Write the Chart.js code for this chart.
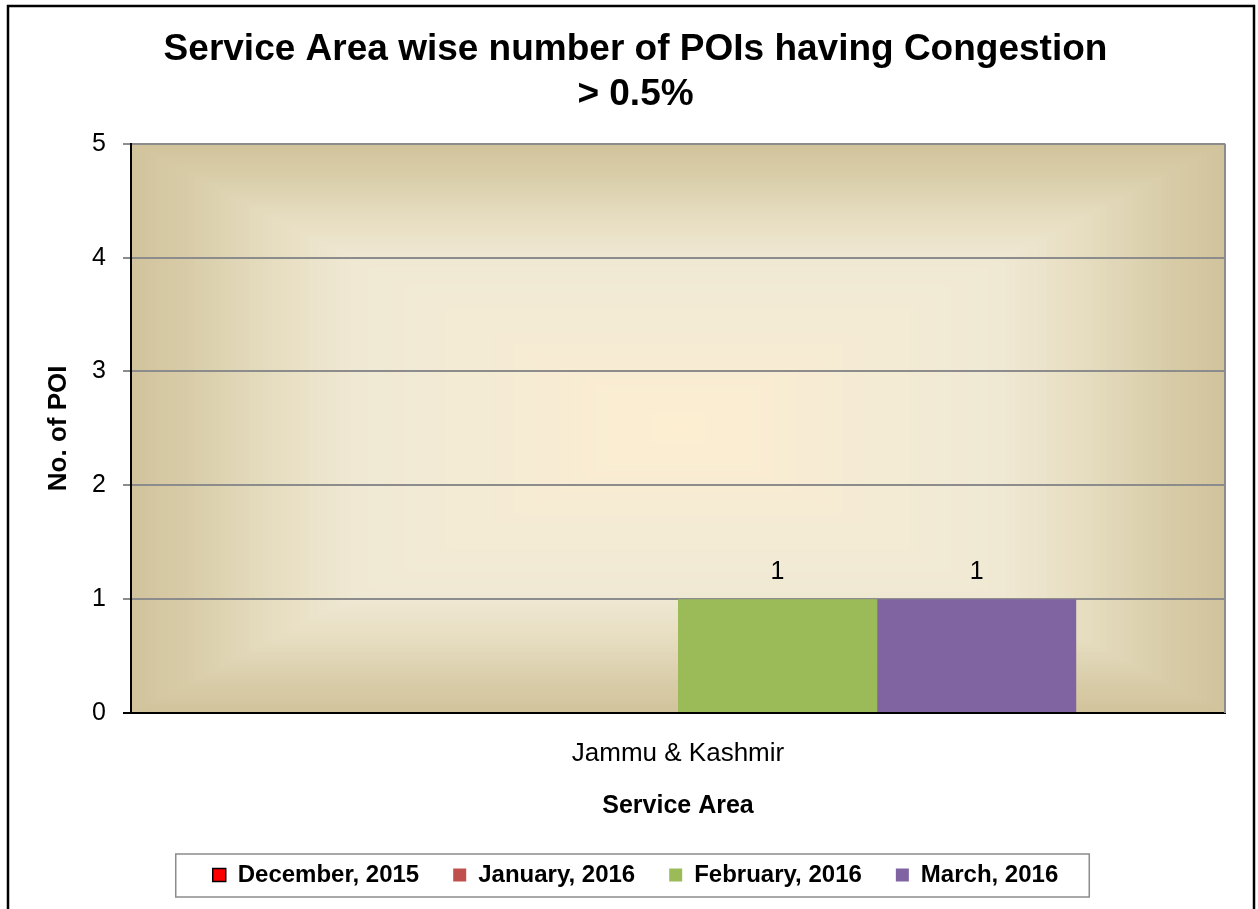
<!DOCTYPE html>
<html>
<head>
<meta charset="utf-8">
<script src="https://cdn.jsdelivr.net/npm/chart.js@4.4.1/dist/chart.umd.min.js"></script>
<style>
  body { margin: 0; background: #fff; }
  canvas { display: block; }
</style>
</head>
<body>
<canvas id="poi-chart" width="1258" height="909"></canvas>
<script>
// data
var serviceAreas = ['Jammu & Kashmir'];
var seriesNames = ['December, 2015', 'January, 2016', 'February, 2016', 'March, 2016'];
var dec2015 = [0];
var jan2016 = [0];
var feb2016 = [1];
var mar2016 = [1];
var yMin = 0, yMax = 5, yStep = 1;

var seriesColors = ['#FF0000', '#C0504D', '#9BBB59', '#8064A2'];

Chart.defaults.font.family = 'Arial, "Liberation Sans", sans-serif';
Chart.defaults.color = '#000';

// background: white page, black frame, rectangular gradient in plot area
var plotBackground = {
    id: 'plotBackground',
    beforeDraw: function(chart) {
        var ctx = chart.ctx, a = chart.chartArea;
        ctx.save();
        ctx.fillStyle = '#fff';
        ctx.fillRect(0, 0, chart.width, chart.height);
        ctx.strokeStyle = '#000';
        ctx.lineWidth = 2.5;
        ctx.strokeRect(8, 6, 1246, 930);

        var stops = [
            [0, [209, 195, 156]],
            [0.1, [216, 204, 168]],
            [0.25, [230, 221, 192]],
            [0.4, [239, 232, 211]],
            [0.6, [243, 235, 212]],
            [0.8, [248, 236, 211]],
            [1, [253, 238, 209]]
        ];
        function colorAt(t) {
            for (var i = 1; i < stops.length; i++) {
                if (t <= stops[i][0]) {
                    var p = stops[i - 1], q = stops[i];
                    var f = (t - p[0]) / (q[0] - p[0]);
                    var c = p[1].map(function(v, k) { return Math.round(v + (q[1][k] - v) * f); });
                    return 'rgb(' + c.join(',') + ')';
                }
            }
            return 'rgb(' + stops[stops.length - 1][1].join(',') + ')';
        }
        var hw = (a.right - a.left) / 2, hh = (a.bottom - a.top) / 2;
        var n = 120;
        for (var i = 0; i < n; i++) {
            var t = i / n;
            ctx.fillStyle = colorAt(t);
            ctx.fillRect(a.left + t * hw, a.top + t * hh, 2 * hw * (1 - t), 2 * hh * (1 - t));
        }
        ctx.restore();
    },
    afterDraw: function(chart) {
        var ctx = chart.ctx, a = chart.chartArea;
        ctx.save();
        // right border of plot area
        ctx.strokeStyle = '#8c8c8c';
        ctx.lineWidth = 2;
        ctx.beginPath();
        ctx.moveTo(a.right, a.top);
        ctx.lineTo(a.right, a.bottom);
        ctx.stroke();
        // box round the legend
        var boxes = chart.legend.legendHitBoxes;
        if (boxes && boxes.length) {
            var first = boxes[0], last = boxes[boxes.length - 1];
            var x0 = first.left - 37, x1 = last.left + last.width + 31;
            var y0 = first.top - 9, y1 = first.top + first.height + 10;
            ctx.strokeStyle = '#8c8c8c';
            ctx.lineWidth = 1.5;
            ctx.strokeRect(x0, y0, x1 - x0, y1 - y0);
        }
        ctx.restore();
    }
};

// value labels above the bars
var valueLabels = {
    id: 'valueLabels',
    afterDatasetsDraw: function(chart) {
        var ctx = chart.ctx;
        ctx.save();
        ctx.font = '25px Arial, "Liberation Sans", sans-serif';
        ctx.fillStyle = '#000';
        ctx.textAlign = 'center';
        ctx.textBaseline = 'middle';
        chart.data.datasets.forEach(function(ds, i) {
            var meta = chart.getDatasetMeta(i);
            meta.data.forEach(function(bar, j) {
                var v = ds.data[j];
                if (v > 0) ctx.fillText(String(v), bar.x, bar.y - 27);
            });
        });
        ctx.restore();
    }
};

var ctx = document.getElementById('poi-chart').getContext('2d');
var myChart = new Chart(ctx, {
    type: 'bar',
    data: {
        labels: serviceAreas,
        datasets: [
            { label: seriesNames[0], data: dec2015, backgroundColor: seriesColors[0], borderWidth: 0 },
            { label: seriesNames[1], data: jan2016, backgroundColor: seriesColors[1], borderWidth: 0 },
            { label: seriesNames[2], data: feb2016, backgroundColor: seriesColors[2], borderWidth: 0 },
            { label: seriesNames[3], data: mar2016, backgroundColor: seriesColors[3], borderWidth: 0 }
        ]
    },
    options: {
        responsive: false,
        animation: false,
        categoryPercentage: 0.728,
        barPercentage: 1.0,
        layout: { padding: { left: 46, right: 33, top: 0, bottom: 12 } },
        plugins: {
            title: {
                display: true,
                text: ['Service Area wise number of POIs having Congestion', '> 0.5%'],
                font: { size: 37, weight: 'bold', lineHeight: 1.2 },
                color: '#000',
                padding: { top: 28, bottom: 27 }
            },
            legend: {
                position: 'bottom',
                labels: {
                    font: { size: 24, weight: 'bold' },
                    color: '#000',
                    boxWidth: 13,
                    boxHeight: 13,
                    padding: 34,
                    generateLabels: function(chart) {
                        var items = Chart.defaults.plugins.legend.labels.generateLabels(chart);
                        items.forEach(function(it, i) {
                            it.lineWidth = i === 0 ? 1.5 : 0;
                            it.strokeStyle = i === 0 ? '#000' : it.fillStyle;
                        });
                        return items;
                    }
                }
            },
            tooltip: { enabled: false }
        },
        scales: {
            x: {
                grid: { display: false, drawTicks: false, tickLength: 0 },
                border: { display: true, color: '#000', width: 2 },
                ticks: { font: { size: 26 }, color: '#000', padding: 25 },
                title: {
                    display: true,
                    text: 'Service Area',
                    font: { size: 25, weight: 'bold', lineHeight: 1.2 },
                    color: '#000',
                    padding: { top: 0, bottom: 8 }
                },
                afterFit: function(scale) { scale.height = 116; }
            },
            y: {
                min: yMin,
                max: yMax,
                ticks: { stepSize: yStep, font: { size: 25 }, color: '#000', padding: 17 },
                grid: {
                    color: function(c) { return c.tick && c.tick.value === 0 ? '#000' : '#8c8c8c'; },
                    lineWidth: 2,
                    tickLength: 8,
                    drawTicks: true
                },
                border: { display: true, color: '#000', width: 2 },
                title: {
                    display: true,
                    text: 'No. of POI',
                    font: { size: 26, weight: 'bold', lineHeight: 1.2 },
                    color: '#000',
                    padding: { top: -3, bottom: 0 }
                },
                afterFit: function(scale) { scale.width = 85; }
            }
        }
    },
    plugins: [plotBackground, valueLabels]
});
</script>
</body>
</html>
